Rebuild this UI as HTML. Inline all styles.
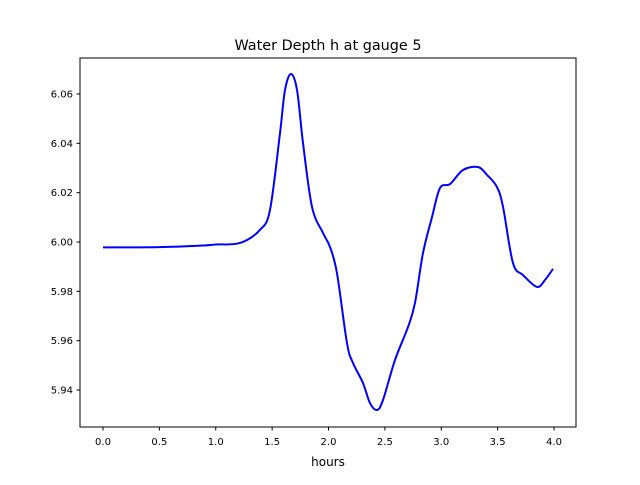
<!DOCTYPE html>
<html><head><meta charset="utf-8"><style>
body{margin:0;background:#fff;}
svg{font-family:"DejaVu Sans","Liberation Sans",sans-serif;}
</style></head><body>
<svg id="chart" width="640" height="480">
<rect x="0" y="0" width="640" height="480" fill="#fff"/>
<text x="328" y="50" font-size="14.4" text-anchor="middle">Water Depth h at gauge 5</text>
<g id="plot"></g>
<rect x="80" y="58" width="496" height="369" fill="none" stroke="#000" stroke-width="1"/>
<text x="328" y="466" font-size="12" text-anchor="middle">hours</text>
</svg>
<script>
const times=[0,0.5,0.9,1.0,1.215,1.392,1.481,1.570,1.614,1.667,1.721,1.774,1.854,1.952,2.013,2.075,2.164,2.217,2.306,2.368,2.430,2.483,2.590,2.705,2.767,2.838,2.918,2.989,3.078,3.193,3.326,3.406,3.494,3.548,3.636,3.725,3.849,3.920,3.991];
const depth=[5.9978,5.9979,5.9986,5.9990,5.9996,6.0049,6.0130,6.0442,6.0616,6.0681,6.0616,6.0401,6.0142,6.0036,5.9980,5.9874,5.9590,5.9510,5.9428,5.9347,5.9319,5.9359,5.9522,5.9655,5.9753,5.9955,6.0101,6.0219,6.0235,6.0292,6.0304,6.0272,6.0223,6.0142,5.9915,5.9866,5.9818,5.9846,5.9891];
const xTicks=[0,0.5,1,1.5,2,2.5,3,3.5,4];
const xTickLabels=["0.0","0.5","1.0","1.5","2.0","2.5","3.0","3.5","4.0"];
const yTicks=[5.94,5.96,5.98,6.00,6.02,6.04,6.06];
const yTickLabels=["5.94","5.96","5.98","6.00","6.02","6.04","6.06"];
const sx=t=>103+t*112.75;
const sy=v=>242-(v-6)/0.02*49.33;
const g=document.getElementById('plot');
const NS='http://www.w3.org/2000/svg';
function mk(tag,attrs){const e=document.createElementNS(NS,tag);for(const k in attrs)e.setAttribute(k,attrs[k]);g.appendChild(e);return e;}
xTicks.forEach((t,i)=>{
 const l=mk('line',{x1:sx(t),x2:sx(t),y1:427,y2:430.5,stroke:'#000'});
 
 
 const tx=mk('text',{x:sx(t),y:445,'font-size':10,'text-anchor':'middle'});
 tx.textContent=xTickLabels[i];
 
 
});
yTicks.forEach((v,i)=>{
 const l=mk('line',{x1:76.5,x2:80,y1:sy(v),y2:sy(v),stroke:'#000'});
 
 
 const tx=mk('text',{x:73,y:sy(v)+3.5,'font-size':10,'text-anchor':'end'});
 tx.textContent=yTickLabels[i];
 
 
});
const P=times.map((t,i)=>[sx(t),sy(depth[i])]);
let d='M'+P[0][0]+','+P[0][1];
for(let i=0;i<P.length-1;i++){
 const p0=P[Math.max(0,i-1)],p1=P[i],p2=P[i+1],p3=P[Math.min(P.length-1,i+2)];
 const c1=[p1[0]+(p2[0]-p0[0])/6,p1[1]+(p2[1]-p0[1])/6];
 const c2=[p2[0]-(p3[0]-p1[0])/6,p2[1]-(p3[1]-p1[1])/6];
 d+=' C'+c1+' '+c2+' '+p2;
}
const path=mk('path',{d:d,fill:'none',stroke:'#0000ff','stroke-width':2,'stroke-linejoin':'round'});


</script>
</body></html>
